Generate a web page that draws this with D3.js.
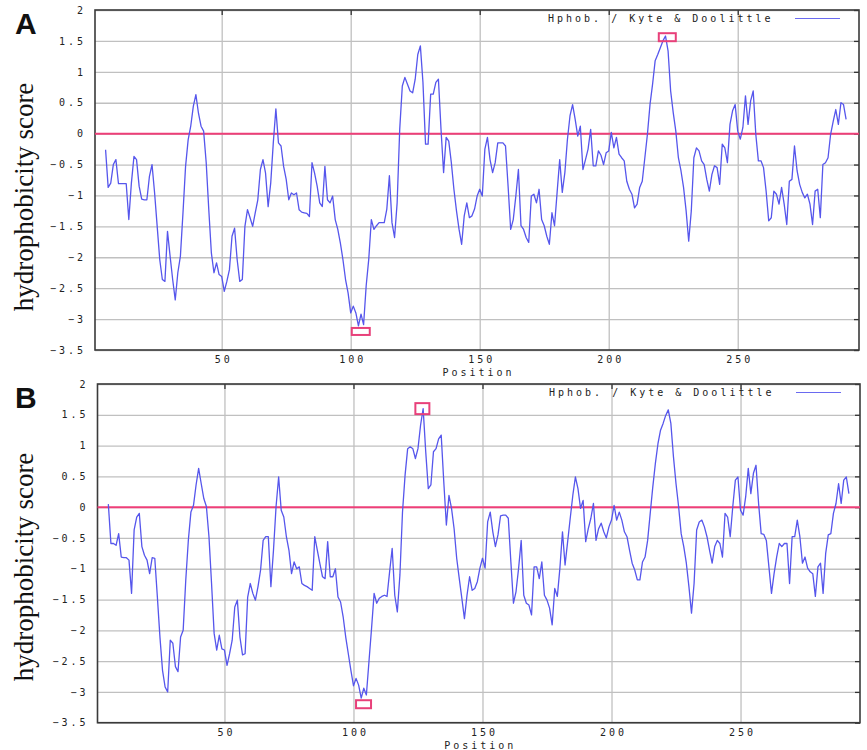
<!DOCTYPE html>
<html>
<head>
<meta charset="utf-8">
<script src="https://cdn.jsdelivr.net/npm/d3@7"></script>
<style>
  body { margin: 0; background: #fff; }
  svg { display: block; }
  .mono { font-family: "DejaVu Sans Mono", monospace; font-size: 10px; letter-spacing: 3px; fill: #222; }
</style>
</head>
<body>
<div id="chart"></div>
<script>

// window centre of the first score (window of 9 residues)
const firstPosition = 5;

// panel A: Kyte & Doolittle scores, positions 5..292
const scoresA = [
  -0.26, -0.87, -0.8, -0.5, -0.42, -0.81, -0.81, -0.81, -0.81, -1.39,
  -0.8, -0.37, -0.42, -0.85, -1.06, -1.07, -1.07, -0.69, -0.5, -0.96,
  -1.5, -2.04, -2.36, -2.39, -1.58, -1.98, -2.36, -2.69, -2.25, -1.98,
  -1.28, -0.53, -0.1, 0.12, 0.44, 0.63, 0.33, 0.12, 0.04, -0.47,
  -1.23, -1.93, -2.25, -2.09, -2.28, -2.31, -2.55, -2.39, -2.2, -1.66,
  -1.53, -2.04, -2.39, -2.36, -1.5, -1.23, -1.36, -1.5, -1.28, -1.07,
  -0.58, -0.42, -0.64, -1.18, -0.8, -0.15, 0.4, -0.15, -0.2, -0.53,
  -0.74, -1.07, -0.96, -0.99, -0.96, -1.23, -1.27, -1.28, -1.29, -1.34,
  -0.47, -0.64, -0.85, -1.12, -1.18, -0.53, -1.07, -1.12, -1.01, -1.39,
  -1.55, -1.77, -2.04, -2.36, -2.58, -2.9, -2.79, -2.9, -3.11, -2.92,
  -3.09, -2.46, -2.03, -1.39, -1.55, -1.49, -1.44, -1.44, -1.44, -1.22,
  -0.68, -1.44, -1.68, -1.12, 0.07, 0.77, 0.91, 0.8, 0.69, 0.66,
  0.88, 1.28, 1.42, 0.83, -0.17, -0.17, 0.64, 0.64, 0.83, 0.88,
  0.07, -0.63, -0.06, -0.12, -0.47, -0.9, -1.25, -1.55, -1.79, -1.33,
  -1.12, -1.36, -1.33, -1.22, -1.01, -0.9, -1.01, -0.25, -0.06, -0.42,
  -0.63, -0.47, -0.15, -0.15, -0.15, -0.2, -0.85, -1.55, -1.39, -1.01,
  -0.58, -1.49, -1.55, -1.68, -1.76, -1.01, -0.98, -1.12, -0.9, -1.39,
  -1.49, -1.66, -1.79, -1.28, -1.49, -0.95, -0.42, -0.95, -0.63, -0.09,
  0.29, 0.47, 0.23, -0.04, 0.12, -0.58, -0.42, -0.25, 0.07, -0.52,
  -0.52, -0.28, -0.35, -0.5, -0.31, -0.28, 0.02, -0.23, -0.06, -0.33,
  -0.39, -0.44, -0.77, -0.9, -0.98, -1.2, -1.14, -0.87, -0.77, -0.39,
  -0.01, 0.47, 0.8, 1.18, 1.28, 1.39, 1.5, 1.58, 1.34, 0.69,
  0.34, 0.04, -0.39, -0.6, -0.87, -1.25, -1.74, -1.25, -0.39, -0.23,
  -0.28, -0.44, -0.5, -0.74, -0.93, -0.66, -0.52, -0.55, -0.82, -0.17,
  -0.23, -0.47, 0.15, 0.37, 0.47, 0.04, -0.09, 0.1, 0.61, 0.15,
  0.53, 0.69, -0.01, -0.44, -0.44, -0.55, -0.93, -1.41, -1.36, -0.93,
  -0.98, -1.14, -0.87, -1.14, -1.47, -0.77, -0.74, -0.2, -0.6, -0.82,
  -0.95, -1.04, -0.98, -1.14, -1.47, -0.93, -0.9, -1.36, -0.5, -0.47,
  -0.39, -0.01, 0.2, 0.39, 0.15, 0.5, 0.47, 0.23
];

// panel B: same scale, second sequence
const scoresB = [
  0.05, -0.59, -0.59, -0.62, -0.43, -0.81, -0.82, -0.82, -0.86, -1.4,
  -0.37, -0.16, -0.1, -0.64, -0.78, -0.86, -1.08, -0.82, -0.83, -1.46,
  -2.11, -2.65, -2.92, -3.0, -2.16, -2.21, -2.59, -2.67, -2.11, -2.0,
  -1.19, -0.54, -0.08, 0.03, 0.36, 0.63, 0.38, 0.14, 0.01, -0.48,
  -1.24, -2.05, -2.32, -2.08, -2.3, -2.32, -2.57, -2.38, -2.16, -1.62,
  -1.51, -2.11, -2.4, -2.38, -1.46, -1.24, -1.4, -1.51, -1.29, -1.02,
  -0.54, -0.48, -0.48, -1.29, -0.7, 0.01, 0.49, -0.05, -0.16, -0.48,
  -0.7, -1.08, -0.89, -1.0, -0.97, -1.24, -1.27, -1.29, -1.32, -1.35,
  -0.48, -0.7, -0.92, -1.13, -1.16, -0.56, -1.13, -1.13, -1.0, -1.46,
  -1.54, -1.78, -2.11, -2.38, -2.65, -2.9, -2.78, -2.89, -3.1, -2.94,
  -3.05, -2.51, -1.97, -1.4, -1.56, -1.48, -1.45, -1.43, -1.45, -1.05,
  -0.67, -1.43, -1.7, -1.1, -0.08, 0.52, 0.95, 0.98, 0.95, 0.79,
  0.95, 1.33, 1.6, 0.9, 0.3, 0.36, 0.9, 0.95, 1.11, 1.17,
  0.41, -0.29, 0.19, -0.02, -0.35, -0.83, -1.16, -1.48, -1.81, -1.43,
  -1.13, -1.35, -1.32, -1.21, -0.99, -0.83, -0.99, -0.24, -0.08, -0.4,
  -0.64, -0.45, -0.14, -0.13, -0.13, -0.18, -0.89, -1.56, -1.37, -0.99,
  -0.54, -1.43, -1.56, -1.59, -1.75, -0.97, -0.97, -1.16, -0.89, -1.43,
  -1.51, -1.64, -1.91, -1.32, -1.45, -0.99, -0.4, -0.94, -0.56, -0.18,
  0.19, 0.49, 0.3, -0.02, 0.11, -0.56, -0.35, -0.18, 0.06, -0.54,
  -0.35, -0.26, -0.4, -0.5, -0.32, -0.21, 0.03, -0.21, -0.08, -0.21,
  -0.4, -0.48, -0.7, -0.91, -1.02, -1.18, -1.18, -0.89, -0.81, -0.54,
  -0.1, 0.33, 0.71, 1.03, 1.25, 1.36, 1.49, 1.58, 1.36, 0.82,
  0.38, 0.01, -0.43, -0.64, -0.91, -1.29, -1.72, -1.24, -0.37, -0.24,
  -0.21, -0.32, -0.48, -0.7, -0.91, -0.64, -0.54, -0.59, -0.81, -0.1,
  -0.16, -0.48, 0.01, 0.44, 0.49, -0.05, -0.13, 0.17, 0.63, 0.22,
  0.55, 0.68, 0.06, -0.43, -0.44, -0.54, -0.97, -1.4, -1.08, -0.81,
  -0.59, -0.64, -0.59, -0.59, -1.24, -0.48, -0.48, -0.21, -0.48, -0.91,
  -0.81, -0.99, -1.05, -1.08, -1.45, -0.97, -0.91, -1.4, -0.75, -0.45,
  -0.43, -0.1, 0.06, 0.38, 0.06, 0.44, 0.49, 0.22
];

const yTicks = [2, 1.5, 1, 0.5, 0, -0.5, -1, -1.5, -2, -2.5, -3, -3.5];
const xTicks = [50, 100, 150, 200, 250];

// highlighted extremes [position, score]
const extremesA = [[103.9, -3.2], [222.7, 1.56]];
const extremesB = [[103.9, -3.2], [126.7, 1.6]];

const legendText = "Hphob. / Kyte & Doolittle";
const yTitle = "hydrophobicity score";
const xTitle = "Position";

const width = 867, height = 750;

const svg = d3.select("#chart").append("svg")
    .attr("width", width).attr("height", height);

drawPanel({
    letter: "A", scores: scoresA, extremes: extremesA,
    left: 95, right: 859, top: 10, bottom: 350, xDomain: [0.9, 297],
    boxes: [[18, 7], [17, 8]], titleY: 197
});

drawPanel({
    letter: "B", scores: scoresB, extremes: extremesB,
    left: 97.5, right: 860, top: 384, bottom: 722.7, xDomain: [0.8, 296.3],
    boxes: [[15, 8], [14, 11]], titleY: 567
});

function drawPanel(cfg) {

    const data = cfg.scores.map((v, i) => ({ pos: firstPosition + i, val: v }));

    const x = d3.scaleLinear().domain(cfg.xDomain).range([cfg.left, cfg.right]);
    const y = d3.scaleLinear().domain([-3.5, 2]).range([cfg.bottom, cfg.top]);

    const w = cfg.right - cfg.left, h = cfg.bottom - cfg.top;

    // grid + labels from the axes
    const yAxis = svg.append("g")
        .attr("transform", `translate(${cfg.left},0)`)
        .call(d3.axisLeft(y).tickValues(yTicks).tickSize(-w).tickPadding(9)
            .tickFormat(d => d3.format("")(d)));

    const xAxis = svg.append("g")
        .attr("transform", `translate(0,${cfg.bottom})`)
        .call(d3.axisBottom(x).tickValues(xTicks).tickSize(-h).tickPadding(6));

    [yAxis, xAxis].forEach(g => {
        g.select(".domain").remove();
        g.selectAll("line").attr("stroke", "#c0c0c0").attr("stroke-width", 1.3);
        g.selectAll("text").attr("class", "mono").attr("fill", null);
    });
    xAxis.selectAll("text").attr("dx", "1.5px");

    // short tick marks on top and right border
    svg.append("g")
        .attr("transform", `translate(0,${cfg.top})`)
        .call(d3.axisTop(x).tickValues(xTicks).tickSize(-5).tickFormat(""))
        .call(g => g.select(".domain").remove())
        .selectAll("line").attr("stroke", "#333").attr("stroke-width", 1.3);

    svg.append("g")
        .attr("transform", `translate(${cfg.right},0)`)
        .call(d3.axisRight(y).tickValues(yTicks).tickSize(-5).tickFormat(""))
        .call(g => g.select(".domain").remove())
        .selectAll("line").attr("stroke", "#333").attr("stroke-width", 1.3);

    // frame
    svg.append("rect")
        .attr("x", cfg.left).attr("y", cfg.top)
        .attr("width", w).attr("height", h)
        .attr("fill", "none").attr("stroke", "#3a3a3a").attr("stroke-width", 1.6);

    // zero line
    svg.append("line")
        .attr("x1", cfg.left).attr("x2", cfg.right)
        .attr("y1", y(0)).attr("y2", y(0))
        .attr("stroke", "#ee3f78").attr("stroke-width", 2);

    // the profile
    const line = d3.line().x(d => x(d.pos)).y(d => y(d.val));

    svg.append("path")
        .datum(data)
        .attr("d", line)
        .attr("fill", "none")
        .attr("stroke", "#5656ec")
        .attr("stroke-width", 1.3)
        .attr("stroke-linejoin", "round");

    // extremes
    svg.append("g").selectAll("rect")
        .data(cfg.extremes)
        .enter()
        .append("rect")
        .attr("x", (d, i) => x(d[0]) - cfg.boxes[i][0] / 2)
        .attr("y", (d, i) => y(d[1]) - cfg.boxes[i][1] / 2)
        .attr("width", (d, i) => cfg.boxes[i][0])
        .attr("height", (d, i) => cfg.boxes[i][1])
        .attr("fill", "none")
        .attr("stroke", "#e8407a")
        .attr("stroke-width", 2);

    // legend
    svg.append("text")
        .attr("class", "mono")
        .attr("x", cfg.right - 311).attr("y", cfg.top + 11.5)
        .text(legendText);

    svg.append("line")
        .attr("x1", cfg.right - 64).attr("x2", cfg.right - 19)
        .attr("y1", cfg.top + 8.5).attr("y2", cfg.top + 8.5)
        .attr("stroke", "#6a6af0").attr("stroke-width", 1.1);

    // x title
    svg.append("text")
        .attr("class", "mono")
        .attr("x", (cfg.left + cfg.right) / 2 + 1.5).attr("y", cfg.bottom + 26)
        .attr("text-anchor", "middle")
        .text(xTitle);

    // y title
    svg.append("text")
        .attr("transform", `translate(33,${cfg.titleY}) rotate(-90)`)
        .attr("text-anchor", "middle")
        .attr("font-family", "Liberation Serif, serif")
        .attr("font-size", 27)
        .attr("fill", "#111")
        .text(yTitle);

    // panel letter
    svg.append("text")
        .attr("x", 15).attr("y", cfg.top + 24)
        .attr("font-family", "Liberation Sans, Arial, sans-serif")
        .attr("font-weight", "bold")
        .attr("font-size", 30)
        .attr("fill", "#111")
        .text(cfg.letter);
}

</script>
</body>
</html>
